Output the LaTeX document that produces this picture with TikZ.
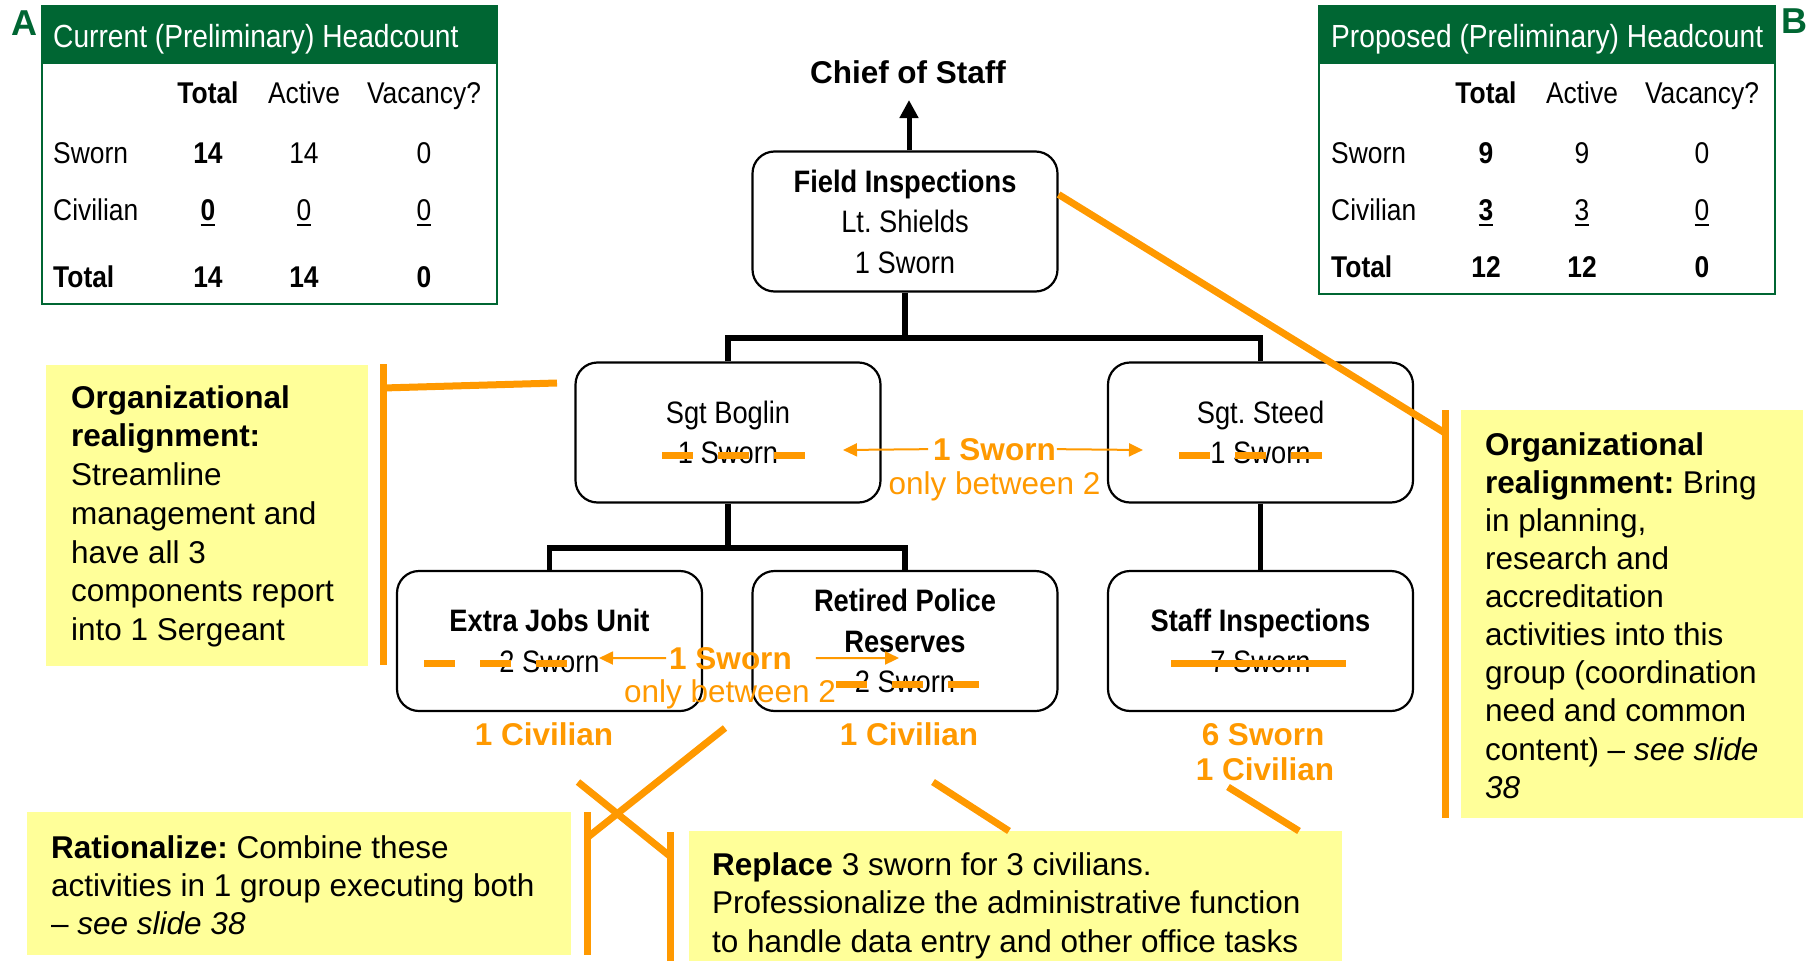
\documentclass[tikz,border=0pt]{standalone}
\usepackage{fontspec}
\setmainfont{Liberation Sans}
\newfontfamily\narrowsans{Liberation Sans}[FakeStretch=0.88]
\usetikzlibrary{arrows.meta}
\definecolor{hcgreen}{RGB}{0,102,51}
\definecolor{hlorange}{RGB}{255,153,0}
\definecolor{noteyellow}{RGB}{255,255,153}
% underlined figure with a rule set a little below the baseline
\newcommand{\ulnum}[1]{\setbox0\hbox{#1}\rlap{\rule[-6pt]{\wd0}{2.5pt}}\box0}
% fixed first-line heights so that baselines land where they should
\newcommand{\tstrut}{\rule{0pt}{22pt}}
\newcommand{\nstrut}{\rule{0pt}{24pt}}
\frenchspacing

\begin{document}
\begin{tikzpicture}[x=1pt,y=-1pt,
  orgbox/.style={draw, line width=2.2pt, rounded corners=22pt, fill=white,
    minimum width=305pt, minimum height=140pt, inner sep=0pt, align=center,
    font=\narrowsans\fontsize{31}{40.5}\selectfont},
  conn/.style={draw, line width=5.5pt},
  tabframe/.style={draw=hcgreen, line width=2.5pt, inner sep=0pt},
  tabhead/.style={fill=hcgreen, inner sep=0pt, minimum height=58pt},
  tabtitle/.style={text=white, anchor=base west, inner sep=0pt,
    font=\narrowsans\fontsize{32}{38}\selectfont},
  tabcell/.style={anchor=base, inner sep=0pt,
    font=\narrowsans\fontsize{30}{36}\selectfont},
  tabrow/.style={tabcell, anchor=base west},
  note/.style={fill=noteyellow, inner sep=0pt},
  notetext/.style={anchor=north west, align=left, inner sep=0pt,
    font=\fontsize{31.5}{38.7}\selectfont},
  hl/.style={draw=hlorange, line width=7pt},
  hltext/.style={text=hlorange, anchor=base, inner sep=0pt,
    font=\bfseries\fontsize{31.5}{36}\selectfont},
  hlnote/.style={text=hlorange, anchor=base, inner sep=0pt,
    font=\fontsize{31.5}{36}\selectfont},
  hlarrow/.style={draw=hlorange, line width=2pt, -{Triangle[length=14pt,width=13pt]}},
  strike/.style={hl, dash pattern=on 31pt off 25pt},
  tag/.style={text=hcgreen, anchor=base west, inner sep=0pt,
    font=\bfseries\fontsize{36}{40}\selectfont}
]
\useasboundingbox (0,0) rectangle (1816,961);

% ---------- headcount tables ----------
\node[tag] (tagA) at (11,35) {A};
\node[tabframe, minimum width=455pt, minimum height=298pt] (tabA) at (269.5,155) {};
\node[tabhead, minimum width=455pt] (tabAhead) at (269.5,35) {};
\node[tabtitle] (tabAtitle) at (53,47) {Current (Preliminary) Headcount};
\node[tabcell] (tabAc1) at (208,103) {\bfseries Total};
\node[tabcell] (tabAc2) at (304,103) {Active};
\node[tabcell] (tabAc3) at (424,103) {Vacancy?};
\node[tabrow]  (tabAr1) at (53,163) {Sworn};
\node[tabcell] (tabA11) at (208,163) {\bfseries 14};
\node[tabcell] (tabA12) at (304,163) {14};
\node[tabcell] (tabA13) at (424,163) {0};
\node[tabrow]  (tabAr2) at (53,220) {Civilian};
\node[tabcell] (tabA21) at (208,220) {\bfseries\ulnum{0}};
\node[tabcell] (tabA22) at (304,220) {\ulnum{0}};
\node[tabcell] (tabA23) at (424,220) {\ulnum{0}};
\node[tabrow]  (tabAr3) at (53,287) {\bfseries Total};
\node[tabcell] (tabA31) at (208,287) {\bfseries 14};
\node[tabcell] (tabA32) at (304,287) {\bfseries 14};
\node[tabcell] (tabA33) at (424,287) {\bfseries 0};

\node[tag] (tagB) at (1781,34) {B};
\node[tabframe, minimum width=456pt, minimum height=288pt] (tabB) at (1547,150) {};
\node[tabhead, minimum width=456pt] (tabBhead) at (1547,35) {};
\node[tabtitle] (tabBtitle) at (1331,47) {Proposed (Preliminary) Headcount};
\node[tabcell] (tabBc1) at (1486,103) {\bfseries Total};
\node[tabcell] (tabBc2) at (1582,103) {Active};
\node[tabcell] (tabBc3) at (1702,103) {Vacancy?};
\node[tabrow]  (tabBr1) at (1331,163) {Sworn};
\node[tabcell] (tabB11) at (1486,163) {\bfseries 9};
\node[tabcell] (tabB12) at (1582,163) {9};
\node[tabcell] (tabB13) at (1702,163) {0};
\node[tabrow]  (tabBr2) at (1331,220) {Civilian};
\node[tabcell] (tabB21) at (1486,220) {\bfseries\ulnum{3}};
\node[tabcell] (tabB22) at (1582,220) {\ulnum{3}};
\node[tabcell] (tabB23) at (1702,220) {\ulnum{0}};
\node[tabrow]  (tabBr3) at (1331,277) {\bfseries Total};
\node[tabcell] (tabB31) at (1486,277) {\bfseries 12};
\node[tabcell] (tabB32) at (1582,277) {\bfseries 12};
\node[tabcell] (tabB33) at (1702,277) {\bfseries 0};

% ---------- organisation chart ----------
\node[anchor=base, inner sep=0pt, font=\bfseries\fontsize{31.5}{36}\selectfont]
  (chief) at (908,83) {Chief of Staff};
\node[orgbox] (field) at (905,221.5)
  {\tstrut\textbf{Field Inspections}\\Lt. Shields\\1 Sworn};
\node[orgbox] (boglin) at (728,432.5) {\tstrut Sgt Boglin\\1 Sworn};
\node[orgbox] (steed) at (1260.5,432.5) {\tstrut Sgt. Steed\\1 Sworn};
\node[orgbox] (extra) at (549.5,641) {\tstrut\textbf{Extra Jobs Unit}\\2 Sworn};
\node[orgbox] (retired) at (905,641)
  {\tstrut\textbf{Retired Police}\\\textbf{Reserves}\\2 Sworn};
\node[orgbox] (staff) at (1260.5,641) {\tstrut\textbf{Staff Inspections}\\7 Sworn};

\coordinate (bus1) at (905,338);
\coordinate (bus2) at (728,548);
\coordinate (chiefTip) at (909,100);
\draw[line width=5pt, -{Triangle[length=18pt,width=18pt]}]
  ([xshift=4pt]field.north) -- (chiefTip);
\draw[conn] (field.south) -- (bus1);
\draw[conn] (boglin.north) |- (bus1) -| (steed.north);
\draw[conn] (boglin.south) -- (bus2);
\draw[conn] (extra.north) |- (bus2) -| (retired.north);
\draw[conn] (steed.south) -- (staff.north);

% ---------- proposed changes ----------
\node[hltext] (swornA) at (994.5,460) {1 Sworn};
\node[hlnote] (betweenA) at (994.5,494) {only between 2};
\coordinate (tipA1) at (843,450);
\coordinate (tipA2) at (1143,450);
\draw[hlarrow] ([xshift=-5pt]swornA.west) -- (tipA1);
\draw[hlarrow] ([xshift=1pt]swornA.east) -- (tipA2);

\node[hltext] (swornB) at (730.5,669) {1 Sworn};
\node[hlnote] (betweenB) at (730,702) {only between 2};
\coordinate (tipB1) at (599,658);
\coordinate (tipB2) at (899,658);
\draw[hlarrow] ([xshift=-3pt]swornB.west) -- (tipB1);
\draw[hlarrow] ([xshift=24pt]swornB.east) -- (tipB2);

\draw[strike] (662,455) -- (805,455);
\draw[strike] (1179,455) -- (1322,455);
\draw[strike] (424,663) -- (567,663);
\draw[strike] (836,684) -- (979,684);
\draw[hl] (1171,663) -- (1346,663);

\node[hltext] (civA) at (544,745) {1 Civilian};
\node[hltext] (civB) at (909,745) {1 Civilian};
\node[hltext] (staffSworn) at (1263,745) {6 Sworn};
\node[hltext] (staffCiv) at (1265,780) {1 Civilian};

% ---------- notes ----------
\node[note, minimum width=322pt, minimum height=301pt] (noteL) at (207,515.5) {};
\node[notetext] (noteLtext) at (71,384)
  {\nstrut\textbf{Organizational}\\\textbf{realignment:}\\Streamline\\management and\\have all 3\\components report\\into 1 Sergeant};
\coordinate (barLtop) at (383,364);
\coordinate (barLbot) at (383,665);
\coordinate (barLjoin) at (383,388);
\coordinate (barLend) at (557,383);
\draw[hl] (barLtop) -- (barLbot);
\draw[hl] (barLjoin) -- (barLend);

\node[note, minimum width=342pt, minimum height=408pt] (noteR) at (1632,614) {};
\node[notetext, font=\fontsize{31.5}{38.1}\selectfont] (noteRtext) at (1485,431)
  {\nstrut\textbf{Organizational}\\\textbf{realignment:} Bring\\in planning,\\research and\\accreditation\\activities into this\\group (coordination\\need and common\\content) -- \textit{see slide}\\\textit{38}};
\coordinate (barRtop) at (1445,410);
\coordinate (barRbot) at (1445,818);
\coordinate (barRjoin) at (1445,433);
\draw[hl] (barRtop) -- (barRbot);
\draw[hl] ([yshift=27pt]field.east) -- (barRjoin);

\node[note, minimum width=544pt, minimum height=143pt] (noteBL) at (299,883.5) {};
\node[notetext, font=\fontsize{31.5}{38}\selectfont] (noteBLtext) at (51,834)
  {\nstrut\textbf{Rationalize:} Combine these\\activities in 1 group executing both\\-- \textit{see slide 38}};

\node[note, minimum width=653pt, minimum height=130pt] (noteBR) at (1015.5,896) {};
\node[notetext, font=\fontsize{31.5}{38.5}\selectfont] (noteBRtext) at (712,851)
  {\nstrut\textbf{Replace} 3 sworn for 3 civilians.\\Professionalize the administrative function\\to handle data entry and other office tasks};

\coordinate (bar1top) at (587,812);
\coordinate (bar1bot) at (587,955);
\coordinate (bar2top) at (670,832);
\coordinate (bar2bot) at (670,961);
\draw[hl] (bar1top) -- (bar1bot);
\draw[hl] (bar2top) -- (bar2bot);
\coordinate (x1a) at (725,728);
\coordinate (x1b) at (588,837);
\coordinate (x2a) at (578,782);
\coordinate (x2b) at (671,857);
\draw[hl] (x1a) -- (x1b);
\draw[hl] (x2a) -- (x2b);
\coordinate (r1a) at (933,782);
\coordinate (r1b) at (1009,831);
\coordinate (r2a) at (1228,787);
\coordinate (r2b) at (1299,831);
\draw[hl] (r1a) -- (r1b);
\draw[hl] (r2a) -- (r2b);
\end{tikzpicture}
\end{document}
